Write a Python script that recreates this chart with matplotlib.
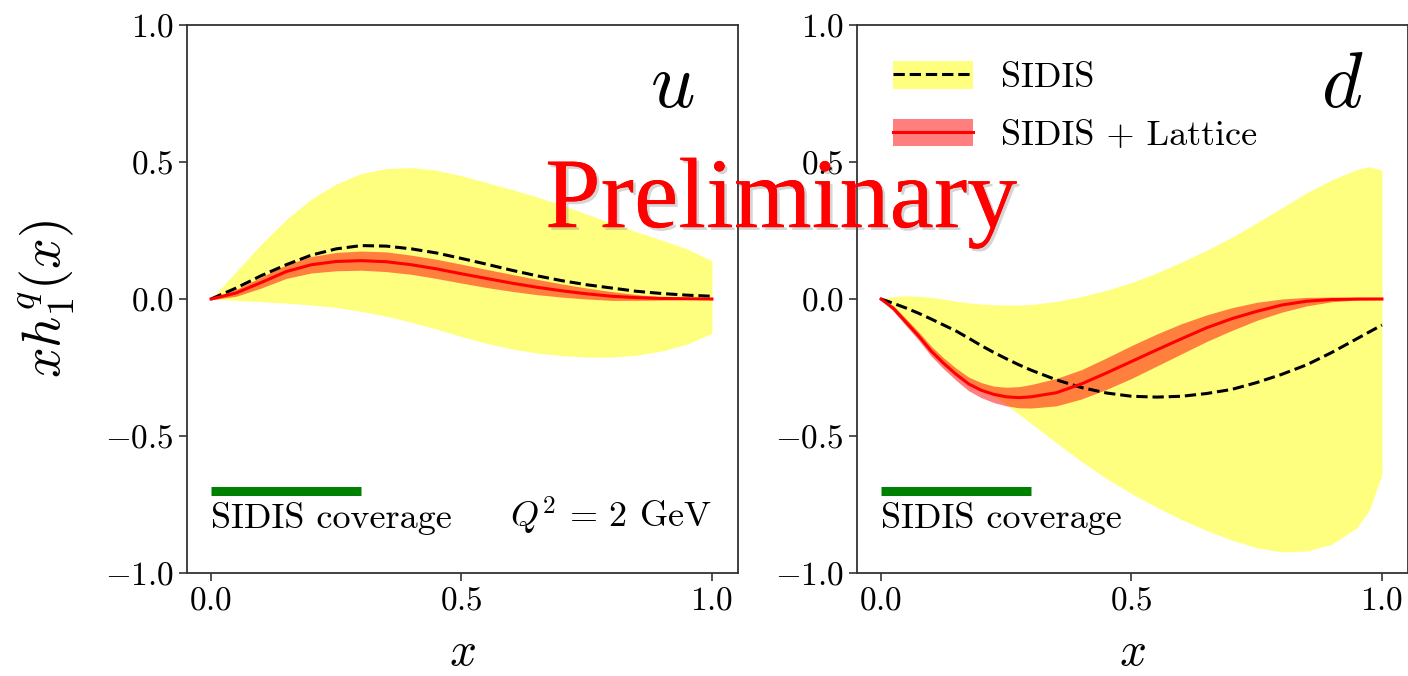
import matplotlib
matplotlib.use("Agg")
import matplotlib.pyplot as plt
import matplotlib.patheffects as pe
from matplotlib.patches import Patch
from matplotlib.lines import Line2D

plt.rcParams['font.family'] = 'serif'
plt.rcParams['font.serif'] = ['cmr10']
plt.rcParams['mathtext.fontset'] = 'cm'
plt.rcParams['axes.formatter.use_mathtext'] = True
plt.rcParams['axes.unicode_minus'] = True

# ---------------- data: u quark ----------------
x_u = [0.0, 0.05, 0.10, 0.15, 0.20, 0.25, 0.30, 0.35, 0.40, 0.45, 0.50,
       0.55, 0.60, 0.65, 0.70, 0.75, 0.80, 0.85, 0.90, 0.95, 1.0]
sidis_u_hi = [0, 0.10, 0.20, 0.29, 0.365, 0.42, 0.458, 0.476, 0.48, 0.47, 0.45,
              0.425, 0.40, 0.373, 0.343, 0.31, 0.277, 0.245, 0.215, 0.183, 0.14]
sidis_u_lo = [0, -0.005, -0.01, -0.015, -0.022, -0.031, -0.045, -0.063, -0.085, -0.11, -0.137,
              -0.162, -0.182, -0.197, -0.207, -0.212, -0.212, -0.205, -0.19, -0.165, -0.125]
sidis_u = [0, 0.04, 0.085, 0.125, 0.16, 0.183, 0.195, 0.193, 0.183, 0.168, 0.148,
           0.127, 0.105, 0.085, 0.067, 0.052, 0.04, 0.028, 0.02, 0.014, 0.01]
lat_u = [0, 0.022, 0.06, 0.10, 0.125, 0.137, 0.14, 0.136, 0.125, 0.11, 0.092,
         0.075, 0.058, 0.043, 0.03, 0.019, 0.01, 0.005, 0.002, 0.001, 0]
lat_u_hi = [0.003, 0.035, 0.08, 0.125, 0.155, 0.17, 0.175, 0.172, 0.16, 0.145, 0.127,
            0.108, 0.09, 0.072, 0.055, 0.04, 0.027, 0.016, 0.008, 0.004, 0.002]
lat_u_lo = [-0.003, 0.01, 0.04, 0.075, 0.095, 0.103, 0.105, 0.10, 0.09, 0.075, 0.058,
            0.042, 0.028, 0.016, 0.007, 0.0, -0.005, -0.005, -0.004, -0.002, -0.002]

# ---------------- data: d quark ----------------
x_d = [0.0, 0.025, 0.05, 0.075, 0.10, 0.125, 0.15, 0.175, 0.20, 0.225, 0.25, 0.275, 0.30,
       0.35, 0.40, 0.45, 0.50, 0.55, 0.60, 0.65, 0.70, 0.75, 0.80, 0.85, 0.90, 0.95, 0.975, 1.0]
sidis_d_hi = [0, 0.008, 0.012, 0.01, 0.006, 0.0, -0.008, -0.014, -0.018, -0.021, -0.022, -0.022, -0.02,
              -0.009, 0.009, 0.032, 0.06, 0.095, 0.135, 0.178, 0.225, 0.278, 0.333, 0.388, 0.435, 0.473, 0.483, 0.47]
sidis_d_lo = [0, -0.035, -0.085, -0.135, -0.19, -0.233, -0.27, -0.30, -0.327, -0.355, -0.385, -0.42, -0.455,
              -0.525, -0.593, -0.655, -0.71, -0.76, -0.805, -0.845, -0.88, -0.908, -0.923, -0.92, -0.895, -0.835, -0.77, -0.64]
sidis_d = [0, -0.016, -0.033, -0.052, -0.073, -0.095, -0.117, -0.143, -0.17, -0.195, -0.218, -0.24, -0.26,
           -0.295, -0.323, -0.343, -0.355, -0.358, -0.355, -0.345, -0.33, -0.305, -0.275, -0.24, -0.195, -0.145, -0.12, -0.095]
lat_d = [0, -0.035, -0.085, -0.135, -0.19, -0.235, -0.275, -0.31, -0.333, -0.348, -0.357, -0.36, -0.357,
         -0.342, -0.31, -0.27, -0.228, -0.186, -0.145, -0.105, -0.072, -0.045, -0.022, -0.008, -0.002, 0, 0, 0]
lat_d_hi = [0, -0.025, -0.072, -0.12, -0.172, -0.215, -0.253, -0.285, -0.305, -0.318, -0.322, -0.32, -0.312,
            -0.29, -0.258, -0.215, -0.17, -0.128, -0.09, -0.058, -0.032, -0.012, 0.0, 0.006, 0.007, 0.005, 0.003, 0.002]
lat_d_lo = [0, -0.045, -0.098, -0.15, -0.208, -0.255, -0.297, -0.335, -0.36, -0.378, -0.39, -0.397, -0.398,
            -0.39, -0.365, -0.33, -0.29, -0.245, -0.20, -0.155, -0.115, -0.078, -0.048, -0.025, -0.01, -0.004, -0.003, -0.002]

coverage = [0.0, 0.3]
coverage_y = -0.7
xticks = [0.0, 0.5, 1.0]
yticks = [-1.0, -0.5, 0.0, 0.5, 1.0]
labels = ['SIDIS', 'SIDIS + Lattice']

fig = plt.figure(figsize=(14.08, 6.76), dpi=100)
ax1 = fig.add_axes([187/1408, 103/676, 551/1408, 548/676])
ax2 = fig.add_axes([857/1408, 103/676, 551/1408, 548/676])

TICK_FS = 24
TXT_FS = 26

def panel(ax, x, shi, slo, s, l, lhi, llo, flavor):
    ax.fill_between(x, slo, shi, color='yellow', alpha=0.5, lw=0, zorder=1)
    ax.fill_between(x, llo, lhi, color='red', alpha=0.5, lw=0, zorder=2)
    ax.plot(x, s, color='k', ls='--', lw=2.2, zorder=3)
    ax.plot(x, l, color='red', lw=2.2, zorder=4)
    ax.plot(coverage, [coverage_y, coverage_y], color='green', lw=6.5, solid_capstyle='butt', zorder=3)
    ax.text(0.0, -0.835, 'SIDIS coverage', fontsize=TXT_FS, va='baseline', ha='left')
    ax.text(0.88, 0.85, '$' + flavor + '$', transform=ax.transAxes, fontsize=56,
            ha='center', va='baseline')
    ax.set_xlim(-0.048, 1.052)
    ax.set_ylim(-1.0, 1.0)
    ax.set_xticks(xticks)
    ax.set_yticks(yticks)
    ax.tick_params(labelsize=TICK_FS, length=6, width=1.2, color='#333333', direction='out')
    for sp in ax.spines.values():
        sp.set_color('#333333')
        sp.set_linewidth(1.3)
    ax.set_xlabel('$x$', fontsize=34, labelpad=12)

panel(ax1, x_u, sidis_u_hi, sidis_u_lo, sidis_u, lat_u, lat_u_hi, lat_u_lo, 'u')
panel(ax2, x_d, sidis_d_hi, sidis_d_lo, sidis_d, lat_d, lat_d_hi, lat_d_lo, 'd')

ax1.set_ylabel('$xh_1^q(x)$', fontsize=39, labelpad=20)
ax1.text(1.0, -0.835, r'$Q^2\,=\,2$ GeV', fontsize=TXT_FS, va='baseline', ha='right')

h1 = (Patch(facecolor='yellow', alpha=0.5, lw=0), Line2D([], [], color='k', ls='--', lw=2.2))
h2 = (Patch(facecolor='red', alpha=0.5, lw=0), Line2D([], [], color='red', lw=2.2))
ax2.legend([h1, h2], labels, loc='upper left', fontsize=TXT_FS, frameon=False,
           handlelength=2.2, handleheight=0.8, handletextpad=0.8, labelspacing=0.67,
           borderaxespad=0.55, borderpad=0.45)

fig.text(0.5547, 0.664, 'Preliminary', fontsize=72, color='red', ha='center', va='baseline',
         family='Liberation Serif', zorder=20,
         path_effects=[pe.withSimplePatchShadow(offset=(2, -2), shadow_rgbFace='#777777', alpha=0.3),
                       pe.Normal()])

fig.savefig('out.png', dpi=100)
